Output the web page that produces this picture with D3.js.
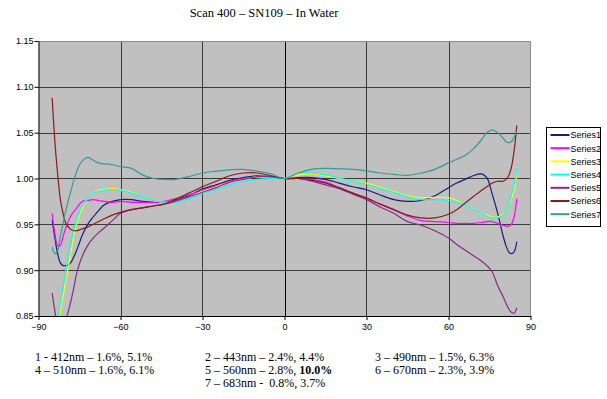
<!DOCTYPE html>
<html>
<head>
<meta charset="utf-8">
<script src="https://cdn.jsdelivr.net/npm/d3@7"></script>
<style>
  html, body { margin: 0; padding: 0; background: #fff; }
  svg { display: block; }
</style>
</head>
<body>
<script>
// Scan angle (degrees) shared by all series
const angles = [-85, -84, -83, -82, -81, -80, -79, -78, -77, -76, -75, -74, -72, -70, -68, -66, -63, -60,
  -56, -52, -48, -44, -40, -35, -30, -25, -20, -15, -10, -5, 0, 5, 10, 15, 20, 25, 30, 35, 40, 45, 50, 55, 60,
  63, 66, 69, 72, 74, 76, 78, 80, 81, 82, 83, 84, 85];

const seriesNames = ["Series1", "Series2", "Series3", "Series4", "Series5", "Series6", "Series7"];
const seriesColors = ["#1a1a80", "#ff00ff", "#ffff00", "#00ffff", "#8a2a8a", "#8b1a1a", "#3a9896"];

// Normalised response per series, one value per angle
const series1 = [0.955, 0.935, 0.918, 0.908, 0.905, 0.905, 0.906, 0.909, 0.915, 0.922, 0.930, 0.938, 0.950, 0.958, 0.965, 0.971, 0.975, 0.977,
  0.977, 0.975, 0.974, 0.974, 0.976, 0.981, 0.9885, 0.993, 0.998, 1.001, 1.003, 1.002, 1.000, 1.001, 1.001, 0.999, 0.995, 0.991, 0.9877, 0.982, 0.977, 0.975, 0.976, 0.981, 0.990,
  0.995, 0.999, 1.003, 1.005, 1.001, 0.983, 0.962, 0.937, 0.927, 0.920, 0.918, 0.920, 0.931];
const series2 = [0.962, 0.940, 0.927, 0.927, 0.937, 0.946, 0.954, 0.960, 0.964, 0.968, 0.972, 0.975, 0.976, 0.977, 0.976, 0.975, 0.974, 0.975,
  0.974, 0.974, 0.974, 0.975, 0.978, 0.982, 0.987, 0.992, 0.997, 1.000, 1.002, 1.002, 1.000, 1.000, 0.999, 0.996, 0.990, 0.984, 0.9786, 0.972, 0.966, 0.959, 0.954, 0.953, 0.952,
  0.951, 0.951, 0.951, 0.952, 0.953, 0.953, 0.951, 0.949, 0.948, 0.948, 0.950, 0.958, 0.978];
const series3 = [0.800, 0.815, 0.830, 0.855, 0.872, 0.889, 0.905, 0.922, 0.939, 0.950, 0.960, 0.967, 0.979, 0.984, 0.987, 0.988, 0.989, 0.988,
  0.985, 0.980, 0.976, 0.974, 0.975, 0.980, 0.986, 0.991, 0.996, 0.999, 1.002, 1.002, 1.000, 1.004, 1.005, 1.003, 1.000, 0.997, 0.995, 0.990, 0.986, 0.981, 0.979, 0.9795, 0.979,
  0.976, 0.971, 0.966, 0.962, 0.960, 0.958, 0.958, 0.961, 0.965, 0.971, 0.978, 0.988, 1.005];
const series4 = [0.800, 0.825, 0.845, 0.864, 0.882, 0.900, 0.917, 0.932, 0.946, 0.956, 0.964, 0.970, 0.979, 0.984, 0.986, 0.987, 0.988, 0.987,
  0.984, 0.980, 0.976, 0.974, 0.974, 0.978, 0.984, 0.988, 0.993, 0.997, 0.999, 1.000, 1.000, 1.006, 1.006, 1.004, 1.0005, 0.997, 0.994, 0.989, 0.985, 0.980, 0.977, 0.977, 0.976,
  0.974, 0.971, 0.966, 0.962, 0.959, 0.957, 0.957, 0.960, 0.965, 0.972, 0.982, 0.993, 1.010];
const series5 = [0.875, 0.855, 0.835, 0.825, 0.830, 0.845, 0.856, 0.868, 0.882, 0.897, 0.907, 0.915, 0.927, 0.935, 0.941, 0.946, 0.954, 0.962,
  0.966, 0.968, 0.970, 0.972, 0.975, 0.980, 0.985, 0.990, 0.996, 0.999, 1.002, 1.002, 1.000, 1.000, 0.997, 0.993, 0.989, 0.983, 0.977, 0.969, 0.962, 0.953, 0.949, 0.943, 0.935,
  0.928, 0.922, 0.916, 0.910, 0.905, 0.898, 0.883, 0.871, 0.864, 0.858, 0.854, 0.853, 0.859];
const series6 = [1.088, 1.040, 1.005, 0.977, 0.962, 0.951, 0.947, 0.944, 0.943, 0.943, 0.944, 0.945, 0.947, 0.950, 0.953, 0.956, 0.960, 0.963,
  0.966, 0.968, 0.970, 0.972, 0.977, 0.984, 0.991, 0.997, 1.003, 1.006, 1.006, 1.003, 1.000, 1.000, 0.998, 0.995, 0.990, 0.984, 0.9786, 0.972, 0.966, 0.960, 0.957, 0.957, 0.961,
  0.966, 0.973, 0.980, 0.987, 0.991, 0.995, 0.997, 0.997, 0.999, 1.003, 1.012, 1.030, 1.058];
const series7 = [0.925, 0.918, 0.921, 0.937, 0.951, 0.965, 0.977, 0.988, 0.999, 1.008, 1.015, 1.019, 1.023, 1.020, 1.017, 1.016, 1.015, 1.013,
  1.011, 1.004, 1.000, 0.999, 0.999, 1.002, 1.006, 1.008, 1.0095, 1.010, 1.008, 1.005, 1.000, 1.006, 1.010, 1.011, 1.0106, 1.010, 1.0084, 1.006, 1.0045, 1.0035, 1.006, 1.010, 1.017,
  1.021, 1.025, 1.032, 1.042, 1.050, 1.053, 1.050, 1.044, 1.040, 1.039, 1.040, 1.045, 1.052];

const xTicks = [-90, -60, -30, 0, 30, 60, 90];
const yTicks = [0.85, 0.90, 0.95, 1.00, 1.05, 1.10, 1.15];

const titleText = "Scan 400 \u2013 SN109 \u2013 In Water";
const notes = [
  [{ t: "1 - 412nm \u2013 1.6%, 5.1%" }],
  [{ t: "2 \u2013 443nm \u2013 2.4%, 4.4%" }],
  [{ t: "3 \u2013 490nm \u2013 1.5%, 6.3%" }],
  [{ t: "4 \u2013 510nm \u2013 1.6%, 6.1%" }],
  [{ t: "5 \u2013 560nm \u2013 2.8%, " }, { t: "10.0%", b: true }],
  [{ t: "6 \u2013 670nm \u2013 2.3%, 3.9%" }],
  [{ t: "7 \u2013 683nm -  0.8%, 3.7%" }]
];

const allSeries = [series1, series2, series3, series4, series5, series6, series7];

const W = 607, H = 399;
const plot = { left: 38.5, right: 530.5, top: 41, bottom: 316 };

const svg = d3.select("body").append("svg").attr("width", W).attr("height", H);

const x = d3.scaleLinear().domain([-90, 90]).range([plot.left, plot.right]);
const y = d3.scaleLinear().domain([0.85, 1.15]).range([plot.bottom, plot.top]);

// Title
svg.append("text")
  .attr("x", 264).attr("y", 17)
  .attr("text-anchor", "middle")
  .style("font-family", "'Liberation Serif', 'Times New Roman', serif")
  .style("font-size", "12.5px")
  .text(titleText);

// Plot area background
svg.append("rect")
  .attr("x", plot.left).attr("y", plot.top)
  .attr("width", plot.right - plot.left).attr("height", plot.bottom - plot.top)
  .attr("fill", "#c0c0c0");

// Grid lines
const grid = svg.append("g");
grid.selectAll("line.h").data(yTicks.filter(v => v > 0.85 && v < 1.15)).join("line")
  .attr("x1", plot.left).attr("x2", plot.right)
  .attr("y1", d => Math.round(y(d)) + 0.5).attr("y2", d => Math.round(y(d)) + 0.5)
  .attr("stroke", "#3a3a3a").attr("stroke-width", 1);
grid.selectAll("line.v").data(xTicks.filter(v => v > -90 && v < 90)).join("line")
  .attr("x1", d => Math.round(x(d)) + 0.5).attr("x2", d => Math.round(x(d)) + 0.5)
  .attr("y1", plot.top).attr("y2", plot.bottom)
  .attr("stroke", d => d === 0 ? "#000" : "#3a3a3a").attr("stroke-width", 1);

// Plot border (top and right)
svg.append("path")
  .attr("d", `M${plot.left},${plot.top + 0.5}H${plot.right}V${plot.bottom}`)
  .attr("fill", "none").attr("stroke", "#8a8a8a").attr("stroke-width", 1);

// Series lines, clipped to the plot area
svg.append("clipPath").attr("id", "plotClip")
  .append("rect")
  .attr("x", plot.left).attr("y", plot.top)
  .attr("width", plot.right - plot.left).attr("height", plot.bottom - plot.top);

const line = d3.line()
  .x((d, i) => x(angles[i]))
  .y(d => y(d))
  .curve(d3.curveCatmullRom.alpha(0.5));

svg.append("g").attr("clip-path", "url(#plotClip)")
  .selectAll("path").data(allSeries).join("path")
  .attr("d", d => line(d))
  .attr("fill", "none")
  .attr("stroke", (d, i) => seriesColors[i])
  .attr("stroke-width", 1.2)
  .attr("stroke-linejoin", "round");

// Axes
const axisFont = "Arial, 'Liberation Sans', sans-serif";
const yAxis = svg.append("g")
  .attr("transform", `translate(${plot.left},0)`)
  .call(d3.axisLeft(y).tickValues(yTicks).tickFormat(d3.format(".2f")).tickSize(4).tickSizeOuter(0));
const xAxis = svg.append("g")
  .attr("transform", `translate(0,${plot.bottom})`)
  .call(d3.axisBottom(x).tickValues(xTicks).tickFormat(d3.format("d")).tickSize(4).tickSizeOuter(0));
[yAxis, xAxis].forEach(a => {
  a.select(".domain").attr("stroke", "#000");
  a.selectAll(".tick line").attr("stroke", "#000");
  a.selectAll("text").style("font-family", axisFont).style("font-size", "9px").attr("fill", "#000");
});
yAxis.selectAll("text").attr("x", -5);
xAxis.selectAll("text").attr("y", 8);

// Legend
const lg = svg.append("g").attr("transform", "translate(546.5,127.5)");
lg.append("rect").attr("width", 54).attr("height", 99)
  .attr("fill", "#fff").attr("stroke", "#000").attr("stroke-width", 1);
const items = lg.selectAll("g").data(seriesNames).join("g")
  .attr("transform", (d, i) => `translate(0,${7.5 + i * 13.2})`);
items.append("line").attr("x1", 4).attr("x2", 23).attr("y1", 0).attr("y2", 0)
  .attr("stroke", (d, i) => seriesColors[i]).attr("stroke-width", 2);
items.append("text").attr("x", 24).attr("y", 3.3)
  .style("font-family", axisFont).style("font-size", "9px")
  .text(d => d);

// Wavelength notes beneath the chart
const notePos = [[35, 361], [205, 361], [375, 361], [35, 374], [205, 374], [375, 374], [205, 387]];
const nt = svg.append("g")
  .style("font-family", "'Liberation Serif', 'Times New Roman', serif")
  .style("font-size", "12px");
notes.forEach((parts, i) => {
  const t = nt.append("text").attr("x", notePos[i][0]).attr("y", notePos[i][1]).attr("xml:space", "preserve");
  parts.forEach(p => {
    t.append("tspan").style("font-weight", p.b ? "bold" : "normal").text(p.t);
  });
});
</script>
</body>
</html>
